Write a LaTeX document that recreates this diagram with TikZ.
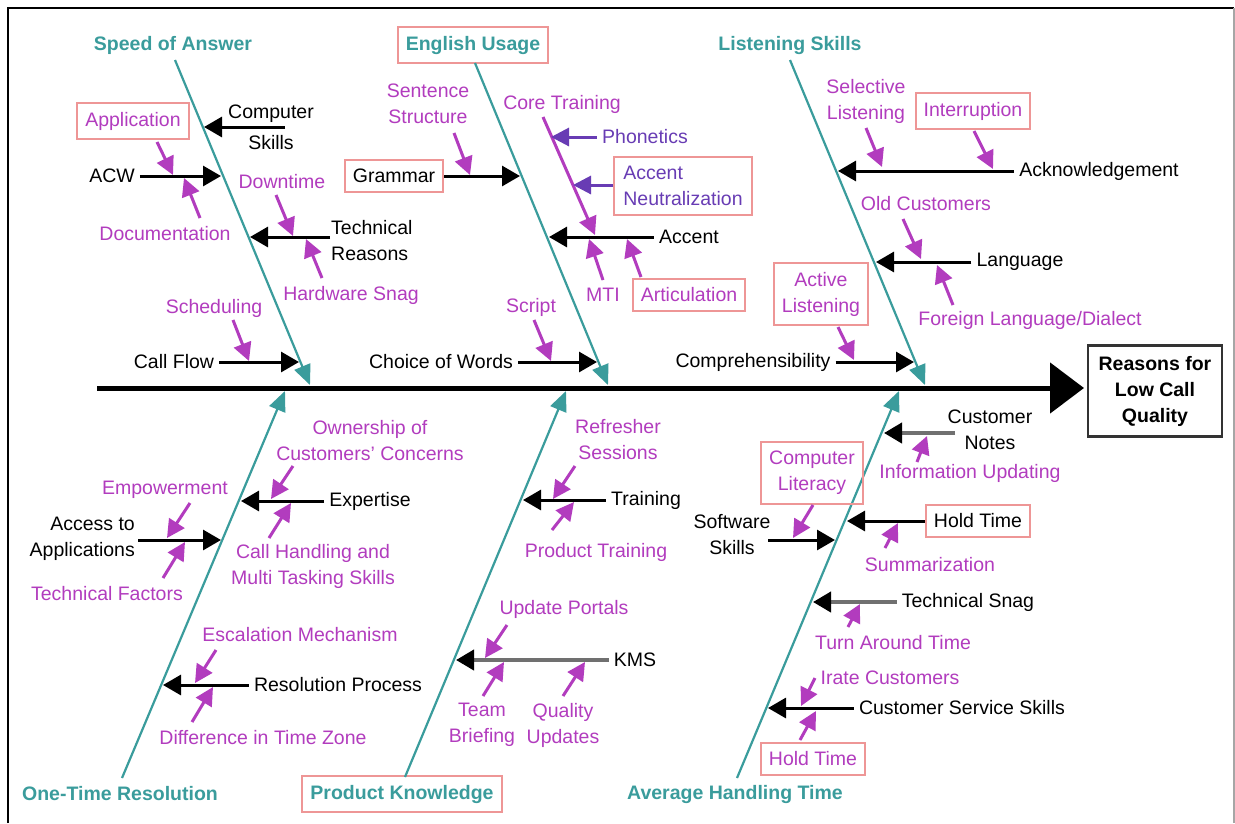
\documentclass[tikz,border=0pt]{standalone}
\usepackage{fontspec}
\setmainfont{Liberation Sans}
\usetikzlibrary{arrows.meta}
\definecolor{tealc}{RGB}{58,156,156}
\definecolor{magc}{RGB}{178,60,190}
\definecolor{vioc}{RGB}{104,60,180}
\definecolor{pinkb}{RGB}{238,150,150}
\definecolor{greyl}{RGB}{112,112,112}
\begin{document}
\begin{tikzpicture}[x=1pt,y=-1pt,
 every node/.style={font=\fontsize{19.5}{26}\selectfont, inner sep=0pt, align=center},
 lbl/.style={text=tealc, font=\fontsize{19.5}{26}\selectfont\bfseries},
 blk/.style={text=black},
 mg/.style={text=magc},
 vt/.style={text=vioc},
 pbox/.style={draw=pinkb, line width=2pt, inner xsep=8pt, inner ysep=9pt},
 bone/.style={draw=tealc, line width=2.2pt, -{Triangle[length=20pt,width=17pt]}},
 cause/.style={draw=black, line width=3pt, -{Triangle[length=18pt,width=20pt]}},
 gcause/.style={draw=greyl, line width=4pt, -{Triangle[length=18pt,width=20pt,color=black,fill=black]}},
 sub/.style={draw=magc, line width=3pt, -{Triangle[length=18pt,width=18pt]}},
 vsub/.style={draw=vioc, line width=3pt, -{Triangle[length=18pt,width=18pt]}},
 gap/.style={shorten <=5pt}
]
\useasboundingbox (0,0) rectangle (1235,823);
\fill[white] (0,0) rectangle (1235,823);
% frame
\draw[line width=2pt] (8,823) -- (8,8) -- (1234,8);
\draw[black!35, line width=1.2pt] (1234,8) -- (1234,823);

% spine and effect
\node[draw=black!80, line width=2.5pt, minimum width=134pt, minimum height=91pt,
      font=\fontsize{19.5}{26}\selectfont\bfseries] (eff) at (1155,391) {Reasons for\\Low Call\\Quality};
\coordinate (spS) at (97,388);
\coordinate (spE) at (1084,388);
\draw[line width=5pt, -{Triangle[length=34pt,width=50pt]}] (spS) -- (spE);

% category labels
\node[lbl] (soa) at (173,45) {Speed of Answer};
\node[lbl,pbox] (eng) at (473,45) {English Usage};
\node[lbl] (lis) at (790,45) {Listening Skills};
\node[lbl] (otr) at (120,794) {One-Time Resolution};
\node[lbl,pbox] (pk) at (402,794) {Product Knowledge};
\node[lbl] (aht) at (735,794) {Average Handling Time};

% bones
\coordinate (b1s) at (175,60);  \coordinate (b1e) at (310,385);
\coordinate (b2s) at (475,63);  \coordinate (b2e) at (608,385);
\coordinate (b3s) at (790,60);  \coordinate (b3e) at (925,385);
\coordinate (b4s) at (122,778); \coordinate (b4e) at (285,391);
\coordinate (b5s) at (405,777); \coordinate (b5e) at (566,391);
\coordinate (b6s) at (737,778); \coordinate (b6e) at (899,391);
\draw[bone] (b1s) -- (b1e);
\draw[bone] (b2s) -- (b2e);
\draw[bone] (b3s) -- (b3e);
\draw[bone] (b4s) -- (b4e);
\draw[bone] (b5s) -- (b5e);
\draw[bone] (b6s) -- (b6e);

% ---------- Speed of Answer ----------
\node[blk, font=\fontsize{19.5}{31}\selectfont] (comp) at (271,127) {Computer\\Skills};
\node[blk] (acw) at (112,176) {ACW};
\node[blk, align=left, anchor=west] (techr) at (331,241) {Technical\\Reasons};
\node[blk] (callflow) at (174,362) {Call Flow};
\node[mg,pbox] (app) at (133,121) {Application};
\node[mg] (doc) at (165,234) {Documentation};
\node[mg] (downt) at (282,182) {Downtime};
\node[mg] (hwsnag) at (351,295) {Hardware Snag};
\node[mg] (sched) at (214,308) {Scheduling};

\coordinate (c1s) at (285,127); \coordinate (c1t) at (204,127);
\coordinate (c2t) at (221,176);
\coordinate (c3s) at (330,237); \coordinate (c3t) at (250,237);
\coordinate (c4t) at (299,362);
\draw[cause] (c1s) -- (c1t);
\draw[cause,gap] (acw) -- (c2t);
\draw[cause] (c3s) -- (c3t);
\draw[cause,gap] (callflow) -- (c4t);

\coordinate (m1s) at (157,142); \coordinate (m1t) at (173,175);
\coordinate (m2s) at (200,218); \coordinate (m2t) at (184,178);
\coordinate (m3s) at (276,195); \coordinate (m3t) at (293,236);
\coordinate (m4s) at (322,278); \coordinate (m4t) at (306,239);
\coordinate (m5s) at (233,320); \coordinate (m5t) at (249,361);
\draw[sub] (m1s) -- (m1t);
\draw[sub] (m2s) -- (m2t);
\draw[sub] (m3s) -- (m3t);
\draw[sub] (m4s) -- (m4t);
\draw[sub] (m5s) -- (m5t);

% ---------- English Usage ----------
\node[blk,pbox] (gram) at (394,176) {Grammar};
\node[blk] (accent) at (689,237) {Accent};
\node[blk] (choice) at (441,362) {Choice of Words};
\node[mg] (sent) at (428,104) {Sentence\\Structure};
\node[mg] (core) at (562,104) {Core Training};
\node[vt] (phon) at (645,137) {Phonetics};
\node[vt,pbox,align=left,inner xsep=9pt] (accneu) at (683,186) {Accent\\Neutralization};
\node[mg] (mti) at (603,295) {MTI};
\node[mg,pbox] (artic) at (689,295) {Articulation};
\node[mg] (script) at (531,307) {Script};

\coordinate (c5t) at (520,176);
\coordinate (c6t) at (549,237);
\coordinate (c7t) at (597,362);
\draw[cause] (gram) -- (c5t);
\draw[cause,gap] (accent) -- (c6t);
\draw[cause,gap] (choice) -- (c7t);

\coordinate (m6s) at (454,133); \coordinate (m6t) at (470,175);
\coordinate (m7s) at (543,117); \coordinate (m7t) at (595,235);
\coordinate (m8t) at (551,137);
\coordinate (m9t) at (573,185);
\coordinate (m10s) at (603,280); \coordinate (m10t) at (589,239);
\coordinate (m11s) at (641,277); \coordinate (m11t) at (627,239);
\coordinate (m12s) at (534,320); \coordinate (m12t) at (551,361);
\draw[sub] (m6s) -- (m6t);
\draw[sub] (m7s) -- (m7t);
\draw[vsub,gap] (phon) -- (m8t);
\draw[vsub] (accneu.west |- m9t) -- (m9t);
\draw[sub] (m10s) -- (m10t);
\draw[sub] (m11s) -- (m11t);
\draw[sub] (m12s) -- (m12t);

% ---------- Listening Skills ----------
\node[blk] (ack) at (1099,171) {Acknowledgement};
\node[blk] (lang) at (1020,262) {Language};
\node[blk] (compr) at (753,362) {Comprehensibility};
\node[mg] (selec) at (866,101) {Selective\\Listening};
\node[mg,pbox] (interr) at (973,111) {Interruption};
\node[mg] (oldc) at (926,204) {Old Customers};
\node[mg] (foreign) at (1030,320) {Foreign Language/Dialect};
\node[mg,pbox] (actl) at (821,294) {Active\\Listening};

\coordinate (c8t) at (838,171);
\coordinate (c9t) at (876,262);
\coordinate (c10t) at (914,362);
\draw[cause,gap] (ack) -- (c8t);
\draw[cause,gap] (lang) -- (c9t);
\draw[cause,gap] (compr) -- (c10t);

\coordinate (m13s) at (866,128); \coordinate (m13t) at (882,167);
\coordinate (m14s) at (974,131); \coordinate (m14t) at (993,169);
\coordinate (m15s) at (903,219); \coordinate (m15t) at (921,259);
\coordinate (m16s) at (953,305); \coordinate (m16t) at (937,265);
\coordinate (m17s) at (838,327); \coordinate (m17t) at (854,360);
\draw[sub] (m13s) -- (m13t);
\draw[sub] (m14s) -- (m14t);
\draw[sub] (m15s) -- (m15t);
\draw[sub] (m16s) -- (m16t);
\draw[sub] (m17s) -- (m17t);

% ---------- One-Time Resolution ----------
\node[blk] (expert) at (370,501) {Expertise};
\node[blk, align=right, anchor=east] (access) at (135,539) {Access to\\Applications};
\node[blk] (resol) at (338,685) {Resolution Process};
\node[mg] (owner) at (370,441) {Ownership of\\Customers' Concerns};
\node[mg] (callh) at (313,566) {Call Handling and\\Multi Tasking Skills};
\node[mg] (empow) at (165,490) {Empowerment};
\node[mg] (techf) at (107,594) {Technical Factors};
\node[mg] (escal) at (300,635) {Escalation Mechanism};
\node[mg] (diff) at (263,738) {Difference in Time Zone};

\coordinate (c11t) at (241,501);
\coordinate (c12s) at (138,540); \coordinate (c12t) at (221,540);
\coordinate (c13t) at (163,685);
\draw[cause,gap] (expert) -- (c11t);
\draw[cause] (c12s) -- (c12t);
\draw[cause,gap] (resol) -- (c13t);

\coordinate (m18s) at (293,466); \coordinate (m18t) at (271,499);
\coordinate (m19s) at (269,538); \coordinate (m19t) at (291,503);
\coordinate (m20s) at (190,503); \coordinate (m20t) at (167,538);
\coordinate (m21s) at (163,578); \coordinate (m21t) at (185,542);
\coordinate (m22s) at (216,650); \coordinate (m22t) at (195,683);
\coordinate (m23s) at (192,722); \coordinate (m23t) at (213,687);
\draw[sub] (m18s) -- (m18t);
\draw[sub] (m19s) -- (m19t);
\draw[sub] (m20s) -- (m20t);
\draw[sub] (m21s) -- (m21t);
\draw[sub] (m22s) -- (m22t);
\draw[sub] (m23s) -- (m23t);

% ---------- Product Knowledge ----------
\node[blk] (train) at (646,500) {Training};
\node[blk] (kms) at (635,660) {KMS};
\node[mg] (refr) at (618,440) {Refresher\\Sessions};
\node[mg] (prodt) at (596,552) {Product Training};
\node[mg] (updp) at (564,609) {Update Portals};
\node[mg] (team) at (482,725) {Team\\Briefing};
\node[mg] (qual) at (563,725) {Quality\\Updates};

\coordinate (c14t) at (523,500);
\coordinate (c15t) at (456,660);
\draw[cause,gap] (train) -- (c14t);
\draw[gcause,gap] (kms) -- (c15t);

\coordinate (m24s) at (575,466); \coordinate (m24t) at (553,499);
\coordinate (m25s) at (552,530); \coordinate (m25t) at (574,502);
\coordinate (m26s) at (507,625); \coordinate (m26t) at (485,658);
\coordinate (m27s) at (483,696); \coordinate (m27t) at (504,662);
\coordinate (m28s) at (563,696); \coordinate (m28t) at (585,662);
\draw[sub] (m24s) -- (m24t);
\draw[sub] (m25s) -- (m25t);
\draw[sub] (m26s) -- (m26t);
\draw[sub] (m27s) -- (m27t);
\draw[sub] (m28s) -- (m28t);

% ---------- Average Handling Time ----------
\node[blk] (cnotes) at (990,430) {Customer\\Notes};
\node[blk,pbox] (holdt) at (978,521) {Hold Time};
\node[blk] (softw) at (732,535) {Software\\Skills};
\node[blk] (tsnag) at (968,602) {Technical Snag};
\node[blk] (css) at (962,708) {Customer Service Skills};
\node[mg] (info) at (970,473) {Information Updating};
\node[mg,pbox] (clit) at (812,473) {Computer\\Literacy};
\node[mg] (summ) at (930,565) {Summarization};
\node[mg] (turn) at (893,643) {Turn Around Time};
\node[mg] (irate) at (890,678) {Irate Customers};
\node[mg,pbox] (hold2) at (813,759) {Hold Time};

\coordinate (c16s) at (955,433); \coordinate (c16t) at (884,433);
\coordinate (c18s) at (768,540); \coordinate (c18t) at (835,540);
\coordinate (c17t) at (847,521);
\coordinate (c19t) at (813,602);
\coordinate (c20t) at (768,708);
\draw[gcause] (c16s) -- (c16t);
\draw[cause] (holdt) -- (c17t);
\draw[cause] (c18s) -- (c18t);
\draw[gcause,gap] (tsnag) -- (c19t);
\draw[cause,gap] (css) -- (c20t);

\coordinate (m29s) at (917,462); \coordinate (m29t) at (927,436);
\coordinate (m30s) at (813,505); \coordinate (m30t) at (793,538);
\coordinate (m31s) at (885,548); \coordinate (m31t) at (898,523);
\coordinate (m32s) at (848,627); \coordinate (m32t) at (860,604);
\coordinate (m33s) at (815,678); \coordinate (m33t) at (801,706);
\coordinate (m34s) at (800,740); \coordinate (m34t) at (816,711);
\draw[sub] (m29s) -- (m29t);
\draw[sub] (m30s) -- (m30t);
\draw[sub] (m31s) -- (m31t);
\draw[sub] (m32s) -- (m32t);
\draw[sub] (m33s) -- (m33t);
\draw[sub] (m34s) -- (m34t);
\end{tikzpicture}
\end{document}
